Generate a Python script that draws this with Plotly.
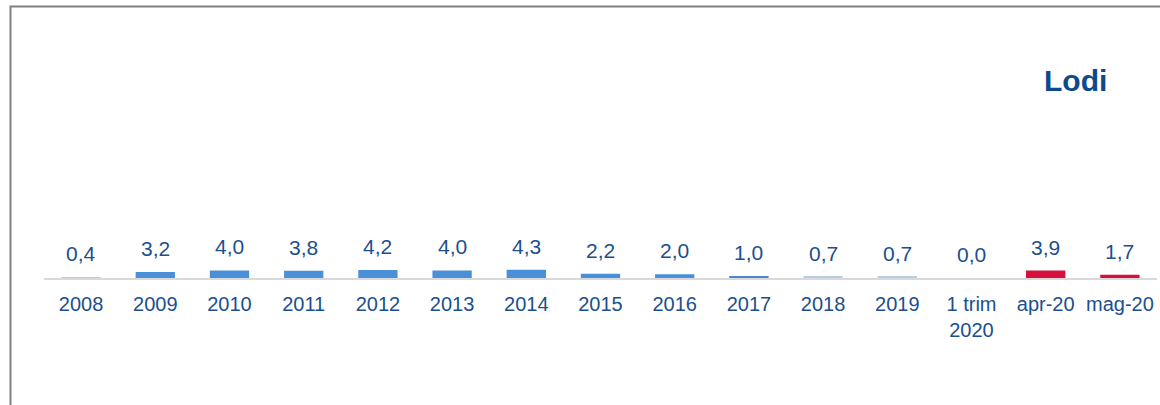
import plotly.graph_objects as go

categories = ["2008", "2009", "2010", "2011", "2012", "2013", "2014", "2015",
              "2016", "2017", "2018", "2019", "1 trim<br>2020", "apr-20", "mag-20"]
values = [0.4, 3.2, 4.0, 3.8, 4.2, 4.0, 4.3, 2.2, 2.0, 1.0, 0.7, 0.7, 0.0, 3.9, 1.7]
value_labels = ["0,4", "3,2", "4,0", "3,8", "4,2", "4,0", "4,3", "2,2", "2,0",
                "1,0", "0,7", "0,7", "0,0", "3,9", "1,7"]
title_text = "Lodi"

BLUE = "#4A90D9"
LIGHT = "#B9CDE5"
RED = "#D6103B"
colors = [LIGHT, BLUE, BLUE, BLUE, BLUE, BLUE, BLUE, BLUE, BLUE, "#4A85D0",
          LIGHT, LIGHT, BLUE, RED, RED]
TXT = "#1B4F8E"
FONT = "Liberation Sans, Arial, sans-serif"

fig = go.Figure()
fig.add_trace(go.Bar(x=categories, y=values, marker=dict(color=colors, line=dict(width=0)),
                     width=0.53, hoverinfo="skip"))

for i, (v, t) in enumerate(zip(values, value_labels)):
    fig.add_annotation(x=i, y=v, text=t, showarrow=False, yanchor="bottom",
                       yshift=10, font=dict(size=21, color=TXT, family=FONT))

fig.add_annotation(xref="paper", yref="paper", x=0.927, y=0.765, text="<b>" + title_text + "</b>",
                   showarrow=False, xanchor="center", yanchor="middle",
                   font=dict(size=30, color="#0B4A8F", family=FONT))

# frame
fig.add_shape(type="rect", xref="paper", yref="paper", x0=-0.0301, y0=-0.6, x1=1.2, y1=1.0523,
              line=dict(color="#808080", width=2), fillcolor="rgba(0,0,0,0)")

fig.update_layout(
    width=1160, height=405,
    margin=dict(l=44, r=3, t=20, b=127),
    paper_bgcolor="white", plot_bgcolor="white",
    showlegend=False,
    font=dict(family=FONT, color=TXT),
    xaxis=dict(type="category", range=[-0.5, 14.5], showline=True, linecolor="#D9D9D9",
               linewidth=2, showgrid=False,
               ticks="", tickfont=dict(size=20, color=TXT), ticklabelstandoff=7,
               fixedrange=True),
    yaxis=dict(range=[0, 135.8], visible=False, showgrid=False, zeroline=False,
               fixedrange=True),
)

fig.write_html("out.html", post_script="document.body.style.margin='0';",
               config={"displayModeBar": False})
